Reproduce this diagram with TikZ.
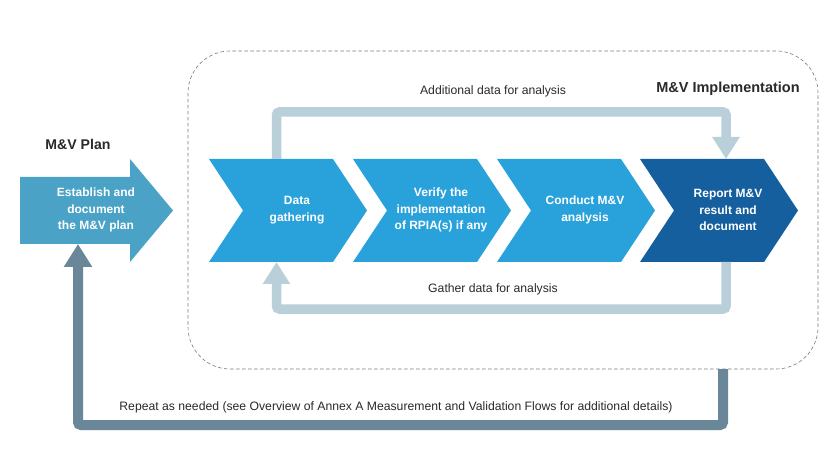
\documentclass[tikz,border=0pt]{standalone}
\usepackage{fontspec}
\setmainfont{Liberation Sans}
\usetikzlibrary{arrows.meta}
\definecolor{chevlight}{HTML}{29A2DC}
\definecolor{chevdark}{HTML}{155F9E}
\definecolor{planblue}{HTML}{4AA2C6}
\definecolor{paleline}{HTML}{B9CFD9}
\definecolor{darkloop}{HTML}{6A8799}
\definecolor{txtgray}{HTML}{2A2A2A}
\definecolor{boxgray}{HTML}{7A7A7A}
\tikzset{
  chevtext/.style={text=white, align=center, font=\bfseries\fontsize{12}{16.5}\selectfont, inner sep=0pt},
  lbltext/.style={text=txtgray, font=\fontsize{12.2}{14}\selectfont, inner sep=0pt},
  headtext/.style={text=txtgray, font=\bfseries\fontsize{14.5}{17}\selectfont, inner sep=0pt},
  paleconn/.style={draw=paleline, line width=9.5pt, rounded corners=3pt, -{Triangle[width=26pt,length=22pt]}},
  darkconn/.style={draw=darkloop, line width=10pt, rounded corners=3pt, -{Triangle[width=27pt,length=23pt]}},
  groupbox/.style={draw=boxgray, dash pattern=on 3.5pt off 2.5pt, line width=0.6pt, rounded corners=42pt}
}
\newcommand{\mychev}[2]{%
  \fill[#2] (#1,159) -- ++(124,0) -- ++(34,51.5) -- ++(-34,51.5) -- ++(-124,0) -- ++(34,-51.5) -- cycle;}
\begin{document}
\begin{tikzpicture}[x=1pt,y=-1pt]
\useasboundingbox (0,0) rectangle (835,470);
\fill[white] (0,0) rectangle (835,470);
% group box
\draw[groupbox] (188,51) rectangle (818,369);
% plan arrow
\fill[planblue] (20,177) -- (130,177) -- (130,159) -- (173,210.5) -- (130,262) -- (130,244) -- (20,244) -- cycle;
\node[chevtext] (plan) at (96,210) {Establish and\\document\\the M\&V plan};
\node[headtext, font=\bfseries\fontsize{14.1}{17}\selectfont] (plantitle) at (78,144) {M\&V Plan};
% chevrons
\mychev{209}{chevlight}
\mychev{353}{chevlight}
\mychev{497}{chevlight}
\mychev{640}{chevdark}
\node[chevtext] (c1) at (297,210) {Data\\gathering};
\node[chevtext] (c2) at (441,210) {Verify the\\implementation\\of RPIA(s) if any};
\node[chevtext] (c3) at (585,210) {Conduct M\&V\\analysis};
\node[chevtext] (c4) at (728,210) {Report M\&V\\result and\\document};
\node[headtext] (impl) at (728,89) {M\&V Implementation};
% connector anchors
\coordinate (t1) at (276.5,159);
\coordinate (t4) at (726,159);
\coordinate (b1) at (276.5,262);
\coordinate (b4) at (726,262);
\coordinate (loopstart) at (723,369);
\coordinate (plantip) at (78,244);
% top feedback
\draw[paleconn] (t1) -- (276.5,112) -- (726,112) -- (t4);
\node[lbltext] (addl) at (493,91) {Additional data for analysis};
% bottom feedback
\draw[paleconn] (b4) -- (726,309) -- (276.5,309) -- (b1);
\node[lbltext] (gath) at (493,289) {Gather data for analysis};
% repeat loop
\draw[darkconn] (loopstart) -- (723,425) -- (78,425) -- (plantip);
\node[lbltext] (rep) at (396,407) {Repeat as needed (see Overview of Annex A Measurement and Validation Flows for additional details)};
\end{tikzpicture}
\end{document}
